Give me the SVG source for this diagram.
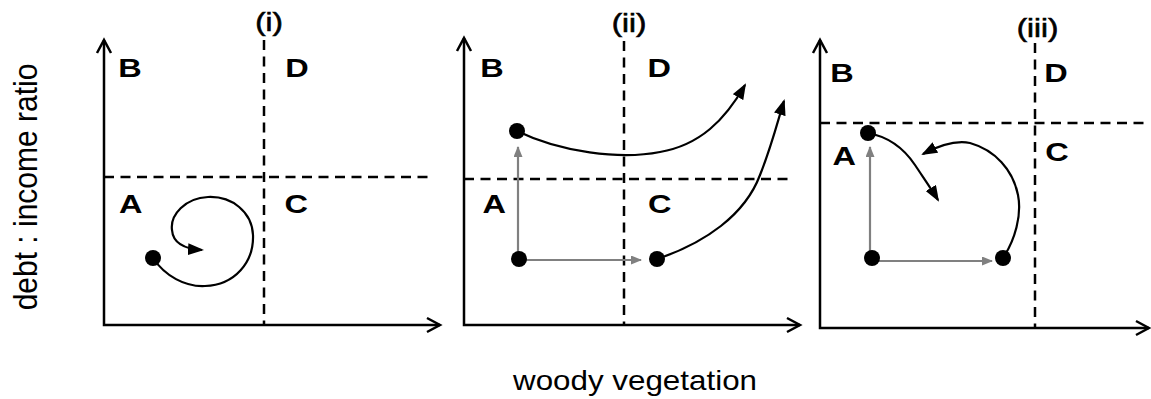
<svg xmlns="http://www.w3.org/2000/svg" width="1151" height="399" viewBox="0 0 1151 399">
<defs>
<style>
.ax{stroke:#000;stroke-width:2.5;fill:none;stroke-linecap:butt}
.ah{stroke:#000;stroke-width:2.5;fill:none;stroke-linejoin:miter}
.dash{stroke:#000;stroke-width:2.5;fill:none;stroke-dasharray:10 6.5}
.q{font-family:"Liberation Sans",Arial,sans-serif;font-weight:bold;font-size:26px;fill:#000}
.t{font-family:"Liberation Sans",Arial,sans-serif;font-size:26px;fill:#000;text-anchor:middle;stroke:#000;stroke-width:0.6}
.lab{font-family:"Liberation Sans",Arial,sans-serif;fill:#000;text-anchor:middle}
.dot{fill:#000}
.blk{stroke:#000;stroke-width:2.2;fill:none;marker-end:url(#mb)}
.gry{stroke:#808080;stroke-width:2.2;fill:none;marker-end:url(#mg)}
</style>
<marker id="mb" markerUnits="userSpaceOnUse" markerWidth="16" markerHeight="12" viewBox="0 0 16 12" refX="14" refY="6" orient="auto">
<path d="M0,0 L16,6 L0,12 z" fill="#000"/>
</marker>
<marker id="mg" markerUnits="userSpaceOnUse" markerWidth="11" markerHeight="9" viewBox="0 0 11 9" refX="10" refY="4.5" orient="auto">
<path d="M0,0 L11,4.5 L0,9 z" fill="#808080"/>
</marker>
</defs>

<text class="lab" font-size="30" transform="translate(37,187) rotate(-90) scale(1,1.1)">debt : income ratio</text>
<text class="lab" font-size="28" transform="translate(635,390) scale(1.12,1)">woody vegetation</text>

<g id="panel1">
<path class="ax" d="M104,40 V325 H440"/>
<path class="ah" d="M97,53 L104,40 L111,53"/>
<path class="ah" d="M427,318 L440,325 L427,332"/>
<path class="dash" d="M264,40 V325"/>
<path class="dash" d="M104,177 H432"/>
<text class="t" transform="translate(269,31) scale(1.2,1)">(i)</text>
<text class="q" transform="translate(118.3,77) scale(1.25,1)">B</text>
<text class="q" transform="translate(285.2,77) scale(1.25,1)">D</text>
<text class="q" transform="translate(119,213) scale(1.25,1)">A</text>
<text class="q" transform="translate(284.6,213) scale(1.25,1)">C</text>
</g>

<g id="panel2">
<path class="ax" d="M464,38 V325 H800"/>
<path class="ah" d="M457,51 L464,38 L471,51"/>
<path class="ah" d="M787,318 L800,325 L787,332"/>
<path class="dash" d="M624,41 V325"/>
<path class="dash" d="M464,179 H792"/>
<text class="t" transform="translate(629,32) scale(1.2,1)">(ii)</text>
<text class="q" transform="translate(480.3,77) scale(1.25,1)">B</text>
<text class="q" transform="translate(647.5,77) scale(1.25,1)">D</text>
<text class="q" transform="translate(482.5,213) scale(1.25,1)">A</text>
<text class="q" transform="translate(648,213) scale(1.25,1)">C</text>
</g>

<g id="panel3">
<path class="ax" d="M820,40 V328 H1149"/>
<path class="ah" d="M813,53 L820,40 L827,53"/>
<path class="ah" d="M1136,321 L1149,328 L1136,335"/>
<path class="dash" d="M1035,43 V328"/>
<path class="dash" d="M820,123 H1145"/>
<text class="t" transform="translate(1037.5,37) scale(1.2,1)">(iii)</text>
<text class="q" transform="translate(830.3,82) scale(1.25,1)">B</text>
<text class="q" transform="translate(1044.2,82) scale(1.25,1)">D</text>
<text class="q" transform="translate(832.5,165) scale(1.25,1)">A</text>
<text class="q" transform="translate(1045.3,161) scale(1.25,1)">C</text>
</g>

<g id="connectors">
<path class="blk" d="M153,258 C165,276 185,287 205,286 C235,285 254,262 253,235 C252,212 232,196 208,197 C185,198 170,215 172,230 C173,244 186,249 202,250"/>
<path class="gry" d="M518,259 V147"/>
<path class="gry" d="M519,260 H641"/>
<path class="blk" d="M517,131 C560,152 620,160 660,152 C700,145 725,120 745,85"/>
<path class="blk" d="M657,259 C705,243 745,215 760,175 C772,145 778,120 784,101"/>
<path class="gry" d="M870,258 V147"/>
<path class="gry" d="M872,261 H992"/>
<path class="blk" d="M868,133 C890,137 905,150 915,165 C925,180 932,190 938,200"/>
<path class="blk" d="M1003,258 C1015,240 1022,215 1018,195 C1013,170 995,150 970,143 C955,140 940,145 923,154"/>
</g>

<g id="n1"><circle class="dot" cx="153" cy="258" r="8"/></g>
<g id="n2"><circle class="dot" cx="517" cy="131" r="8"/></g>
<g id="n3"><circle class="dot" cx="519" cy="259" r="8"/></g>
<g id="n4"><circle class="dot" cx="657" cy="259" r="8"/></g>
<g id="n5"><circle class="dot" cx="868" cy="133" r="8"/></g>
<g id="n6"><circle class="dot" cx="872" cy="258" r="8"/></g>
<g id="n7"><circle class="dot" cx="1003" cy="258" r="8"/></g>
</svg>
